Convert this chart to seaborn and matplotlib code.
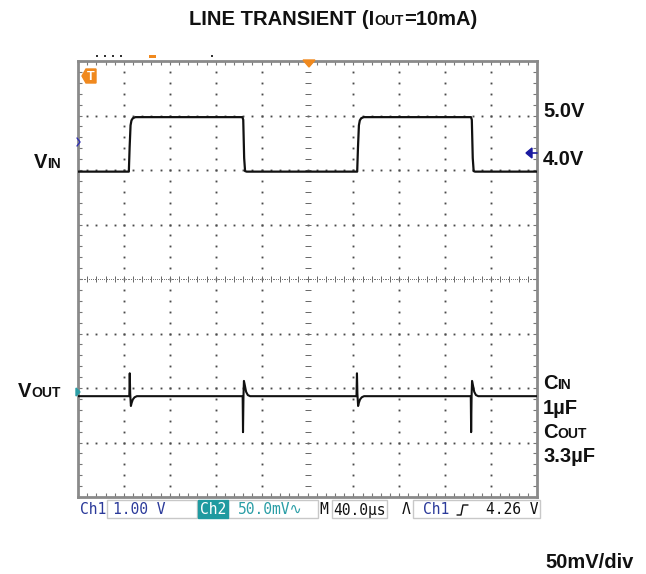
import matplotlib
matplotlib.use("Agg")
import matplotlib.pyplot as plt
import seaborn as sns
import numpy as np
import pandas as pd
from matplotlib.patches import Rectangle, Polygon

# ---------------- data ----------------
# time in microseconds (40 us/div, 10 div)
vin_t = [0, 44.3, 45.0, 45.8, 46.6, 47.8, 50, 143.3, 144.0, 144.8, 145.6, 147,
         243.3, 244.0, 244.8, 245.6, 246.8, 249, 342.5, 343.2, 344.0, 344.8, 346, 400]
# input voltage in volts (1 V/div)
vin_v = [4.0, 4.0, 4.45, 4.85, 4.94, 4.98, 5.0, 5.0, 4.95, 4.25, 4.01, 4.0,
         4.0, 4.45, 4.85, 4.94, 4.98, 5.0, 5.0, 4.95, 4.25, 4.01, 4.0, 4.0]
# output voltage deviation in mV (50 mV/div)
vout_t = [0,
          44.7, 45.1, 45.5, 46.1, 46.8, 47.8, 49.3, 51.3,
          143.5, 143.8, 144.2, 144.6, 145.2, 146.5, 148.0, 150.0,
          242.7, 243.1, 243.5, 244.1, 244.8, 245.8, 247.3, 249.3,
          342.3, 342.6, 343.0, 343.4, 344.0, 345.3, 346.8, 348.8,
          400]
vout_mv = [0,
           0, 21, 2, -9, -6, -3, -1, 0,
           0, -33, 0, 14, 11, 4, 1, 0,
           0, 21, 2, -9, -6, -3, -1, 0,
           0, -33, 0, 14, 11, 4, 1, 0,
           0]

VIN_V_PER_DIV = 1.0
VIN_OFFSET_DIV = 1.97     # 4.0 V sits just under division 6
VOUT_MV_PER_DIV = 50.0
VOUT_BASE_DIV = 1.85

right_labels = ["5.0V", "4.0V"]

# ---------------- figure ----------------
sns.set_theme(style="white")
plt.rcParams["font.family"] = ["Liberation Sans", "DejaVu Sans"]

W, H = 646, 574
fig = plt.figure(figsize=(W / 100, H / 100), dpi=100)
L, R, T, B = 78, 537, 61, 497
ax = fig.add_axes([L / W, 1 - B / H, (R - L) / W, (B - T) / H])
ax.set_xlim(0, 400)
ax.set_ylim(0, 8)

df_in = pd.DataFrame({"t": vin_t, "d": [v / VIN_V_PER_DIV + VIN_OFFSET_DIV for v in vin_v]})
df_out = pd.DataFrame({"t": vout_t, "d": [VOUT_BASE_DIV + m / VOUT_MV_PER_DIV for m in vout_mv]})

# grid dots
gx = np.arange(0, 400.01, 8)
gy = np.arange(0, 8.001, 0.2)
dot = "#4a4a4a"
for xv in [40, 80, 120, 160, 240, 280, 320, 360]:
    ax.plot(np.full_like(gy, xv), gy, ls="none", marker="s", ms=1.35, mew=0, color=dot, zorder=1)
for yv in [1, 2, 3, 5, 6, 7]:
    ax.plot(gx, np.full_like(gx, yv), ls="none", marker="s", ms=1.35, mew=0, color=dot, zorder=1)
# center cross with ticks
ax.plot(gx, np.full_like(gx, 4.0), ls="none", marker="|", ms=4.5, mew=0.7, color="#666666", zorder=1)
ax.plot(np.full_like(gy, 200), gy, ls="none", marker="_", ms=4.5, mew=0.7, color="#666666", zorder=1)
ax.plot(np.arange(0, 400.01, 1.6), np.full(251, 4.0), ls="none", marker="s", ms=0.7, mew=0,
        color="#777777", zorder=1)

sns.lineplot(data=df_in, x="t", y="d", sort=False, estimator=None, color="#111111",
             lw=1.6, ax=ax, legend=False, zorder=3)
sns.lineplot(data=df_out, x="t", y="d", sort=False, estimator=None, color="#111111",
             lw=1.5, ax=ax, legend=False, zorder=3)

ax.set_xlabel("")
ax.set_ylabel("")
ax.set_xticks(np.arange(0, 401, 40))
ax.set_xticks(gx, minor=True)
ax.set_yticks(np.arange(0, 9, 1))
ax.set_yticks(gy, minor=True)
ax.tick_params(which="both", direction="in", length=3, width=0.8, color="#777777",
               top=True, right=True, bottom=True, left=True,
               labelbottom=False, labelleft=False)
for s in ax.spines.values():
    s.set_color("#8a8a8a")
    s.set_linewidth(2)

# ---------------- overlay in pixel coords ----------------
ov = fig.add_axes([0, 0, 1, 1])
ov.set_xlim(0, W)
ov.set_ylim(H, 0)
ov.axis("off")
ov.patch.set_alpha(0)

renderer = fig.canvas.get_renderer()


def rich(x, y, parts, ha="left", color="#111111"):
    texts, widths = [], []
    for s, size in parts:
        t = ov.text(0, y, s, fontsize=size, fontweight="bold", va="baseline", ha="left", color=color)
        widths.append(t.get_window_extent(renderer).width)
        texts.append(t)
    total = sum(widths)
    if ha == "right":
        start = x - total
    elif ha == "center":
        start = x - total / 2
    else:
        start = x
    for t, w in zip(texts, widths):
        t.set_x(start)
        start += w


BIG, SMALL = 14.5, 10
rich(333, 25, [("LINE TRANSIENT (I", BIG), ("OUT", SMALL), ("=10mA)", BIG)], ha="center")
rich(61, 168, [("V", BIG), ("IN", SMALL)], ha="right")
rich(61, 397, [("V", BIG), ("OUT", SMALL)], ha="right")
rich(543, 117, [(right_labels[0], BIG)])
rich(543, 165, [(right_labels[1], BIG)])
rich(543, 389, [("C", BIG), ("IN", SMALL)])
rich(543, 414, [("1µF", BIG)])
rich(543, 438, [("C", BIG), ("OUT", SMALL)])
rich(543, 462, [("3.3µF", BIG)])
rich(545, 568, [("50mV/div", BIG)])

# status bar
blue = "#2b3a9a"
teal = "#2a9ea6"
mono = ["DejaVu Sans Mono", "DejaVu Sans"]
ybar = 510
for x0, x1 in [(107, 197), (228, 318), (332, 387), (413, 540)]:
    ov.add_patch(Rectangle((x0, 500), x1 - x0, 18, facecolor="white", edgecolor="#c8c8c8", lw=1))
ov.add_patch(Rectangle((198, 500), 30, 18, facecolor="#1f9aa0", edgecolor="#1f9aa0", lw=1))
fs = 10.5
ov.text(80, ybar, "Ch1", family=mono, fontsize=fs, color=blue, va="center", ha="left")
ov.text(113, ybar, "1.00 V", family=mono, fontsize=fs, color=blue, va="center", ha="left")
ov.text(213, ybar, "Ch2", family=mono, fontsize=fs, color="white", va="center", ha="center")
ov.text(238, ybar, "50.0mV∿", family=mono, fontsize=fs, color=teal, va="center", ha="left")
ov.text(324, ybar, "M", family=mono, fontsize=fs, color="#111111", va="center", ha="center")
ov.text(360, ybar, "40.0µs", family=mono, fontsize=fs, color="#111111", va="center", ha="center")
ov.text(406, ybar, "Λ", family=mono, fontsize=fs, color="#111111", va="center", ha="center")
ov.text(423, ybar, "Ch1", family=mono, fontsize=fs, color=blue, va="center", ha="left")
ov.plot([457, 461, 463, 468], [515, 515, 505, 505], color="#111111", lw=1)
ov.text(538, ybar, "4.26 V", family=mono, fontsize=fs, color="#111111", va="center", ha="right")

# scope markers
orange = "#f0891e"
ov.add_patch(Polygon([(82, 76), (86, 69), (96, 69), (96, 83), (86, 83)], closed=True,
                     facecolor=orange, edgecolor=orange))
ov.text(90.5, 76.5, "T", fontsize=9, fontweight="bold", color="white", ha="center", va="center")
ov.add_patch(Polygon([(303, 60), (315, 60), (309, 67)], closed=True, facecolor=orange, edgecolor=orange))
ov.add_patch(Rectangle((149, 55), 7, 3, facecolor=orange, edgecolor="none"))
ov.add_patch(Polygon([(526, 153), (532, 148), (532, 158)], closed=True, facecolor="#1a1aa0", edgecolor="#1a1aa0"))
ov.plot([530, 537], [153, 153], color="#1a1aa0", lw=1.2)
ov.plot([77, 80, 77], [138, 142, 146], color="#3030b0", lw=1)
ov.add_patch(Polygon([(76, 388), (80, 392), (76, 396)], closed=True, facecolor=teal, edgecolor=teal))
for xd in [96, 104, 112, 120, 211]:
    ov.add_patch(Rectangle((xd, 55), 1.5, 1.5, facecolor="#333333", edgecolor="none"))

fig.savefig("out.png", dpi=100)
